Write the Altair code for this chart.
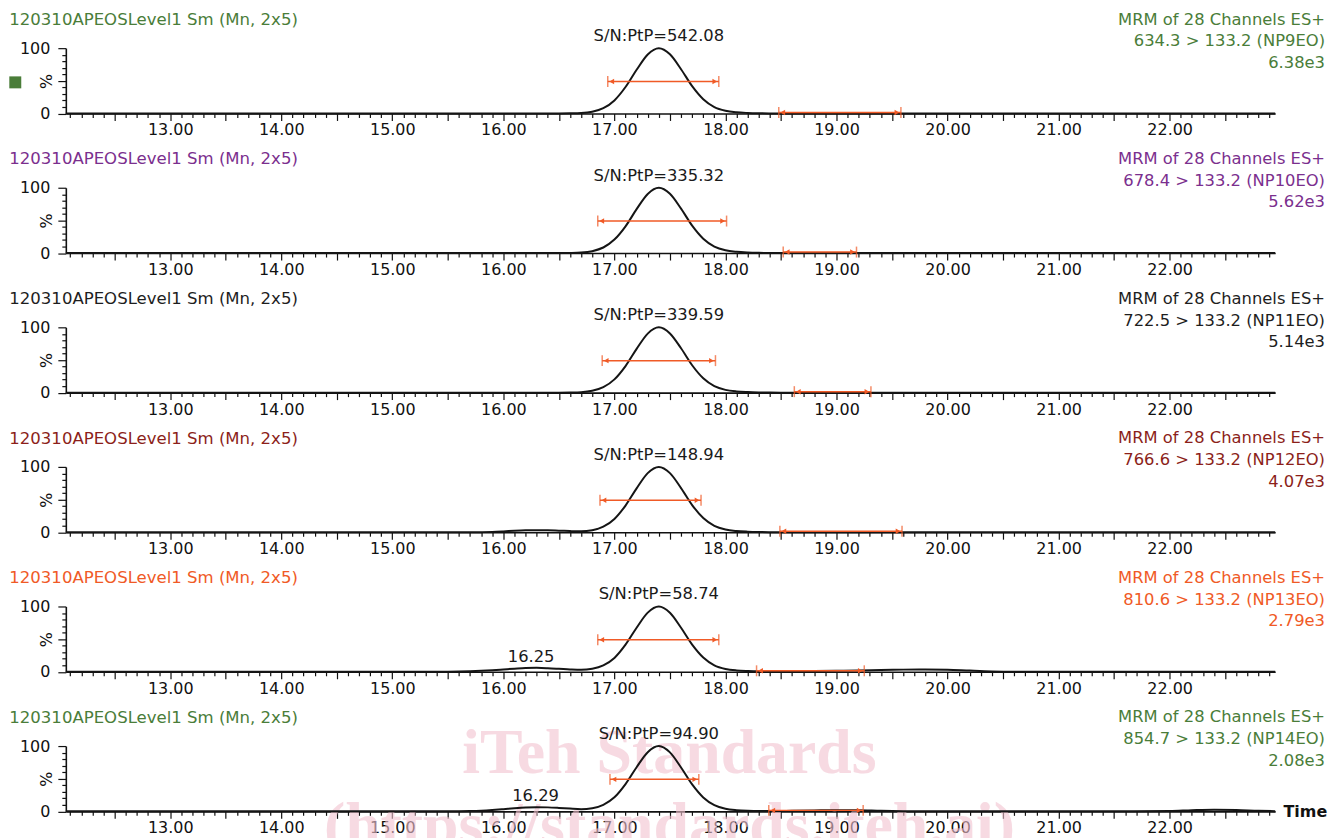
import altair as alt
import pandas as pd

# ---------------- data ----------------
TIME = [12.06, 12.5, 13.0, 13.5, 14.0, 14.5, 15.0, 15.5,
        15.6, 15.7, 15.8, 15.9,
        16.0, 16.1, 16.2, 16.3, 16.4, 16.5, 16.6, 16.7, 16.8, 16.9,
        17.0, 17.1, 17.2, 17.3, 17.4, 17.5, 17.6, 17.7, 17.8, 17.9,
        18.0, 18.1, 18.2, 18.3, 18.4, 18.5, 18.6,
        18.8,
        19.0, 19.2, 19.4, 19.6, 19.8,
        20.0, 20.2, 20.4, 20.6,
        21.0, 21.5,
        22.0, 22.2, 22.4, 22.6, 22.8, 22.95]

NP9EO = [0, 0, 0, 0, 0, 0, 0, 0,
         0, 0, 0, 0,
         0, 0, 0, 0, 0, 0, 0.2, 0.7, 2.7, 8.1,
         20.0, 40.5, 66.9, 90.4, 100, 90.6, 67.8, 41.8, 21.8, 9.8,
         4.2, 1.8, 0.8, 0.3, 0.1, 0, 0,
         0,
         0, 0, 0, 0, 0,
         0, 0, 0, 0,
         0, 0,
         0, 0, 0, 0, 0, 0]
NP10EO = [0, 0, 0, 0, 0, 0, 0, 0,
          0, 0, 0, 0,
          0, 0, 0, 0, 0, 0, 0.2, 0.8, 2.9, 8.5,
          20.6, 40.9, 67.2, 90.5, 100, 90.7, 68.0, 42.0, 22.0, 10.0,
          4.3, 1.9, 0.8, 0.3, 0.1, 0, 0,
          0,
          0, 0, 0, 0, 0,
          0, 0, 0, 0,
          0, 0,
          0, 0, 0, 0, 0, 0]
NP11EO = [0, 0, 0, 0, 0, 0, 0, 0,
          0, 0, 0, 0,
          0, 0, 0, 0, 0, 0, 0.2, 0.7, 2.8, 8.3,
          20.3, 40.7, 67.0, 90.4, 100, 90.6, 67.9, 41.9, 21.9, 9.9,
          4.2, 1.8, 0.8, 0.3, 0.1, 0, 0,
          0,
          0, 0, 0, 0, 0,
          0, 0, 0, 0,
          0, 0,
          0, 0, 0, 0, 0, 0]
NP12EO = [0, 0, 0, 0, 0, 0, 0, 0,
          0, 0, 0.1, 0.4,
          1.2, 2.2, 2.9, 3.1, 2.9, 2.4, 1.7, 1.3, 3.0, 8.4,
          20.3, 40.8, 67.1, 90.5, 100, 90.5, 67.6, 41.6, 21.6, 9.7,
          4.1, 1.8, 0.8, 0.3, 0.1, 0, 0,
          0,
          0, 0, 0, 0, 0,
          0, 0, 0, 0,
          0, 0,
          0, 0, 0, 0, 0, 0]
NP13EO = [0, 0, 0, 0, 0, 0, 0, 0.1,
          0.3, 0.7, 1.4, 2.4,
          3.6, 4.8, 5.8, 6.0, 5.5, 4.6, 3.6, 3.0, 4.6, 9.8,
          21.2, 41.5, 67.5, 90.6, 100, 90.4, 67.4, 41.6, 21.8, 9.9,
          4.4, 2.1, 1.2, 0.8, 0.8, 0.9, 1.0,
          1.2,
          1.5, 2.0, 2.7, 3.3, 3.6,
          3.2, 1.8, 0.6, 0.1,
          0, 0,
          0, 0, 0, 0, 0, 0]
NP14EO = [0, 0, 0, 0, 0, 0, 0, 0,
          0.1, 0.4, 1.0, 2.0,
          3.3, 4.7, 5.8, 6.3, 6.1, 5.3, 4.2, 3.4, 4.8, 10.0,
          21.5, 41.8, 67.6, 90.6, 100, 90.3, 67.2, 41.2, 21.3, 9.5,
          4.0, 1.8, 0.8, 0.4, 0.4, 0.6, 0.9,
          1.4,
          1.8, 1.6, 0.8, 0.3, 0.1,
          0, 0, 0, 0,
          0, 0.1,
          0.6, 1.8, 2.6, 2.2, 0.9, 0.3]

SERIES = [NP9EO, NP10EO, NP11EO, NP12EO, NP13EO, NP14EO]

TITLE = "120310APEOSLevel1 Sm (Mn, 2x5)"
HEADER = "MRM of 28 Channels ES+"
TRANSITIONS = ["634.3 > 133.2 (NP9EO)", "678.4 > 133.2 (NP10EO)",
               "722.5 > 133.2 (NP11EO)", "766.6 > 133.2 (NP12EO)",
               "810.6 > 133.2 (NP13EO)", "854.7 > 133.2 (NP14EO)"]
MAX_INTENSITY = ["6.38e3", "5.62e3", "5.14e3", "4.07e3", "2.79e3", "2.08e3"]
SN_LABELS = ["S/N:PtP=542.08", "S/N:PtP=335.32", "S/N:PtP=339.59",
             "S/N:PtP=148.94", "S/N:PtP=58.74", "S/N:PtP=94.90"]
PEAK_TIME = 17.40

SIG_START = [16.94, 16.85, 16.89, 16.87, 16.85, 16.96]
SIG_END = [17.94, 18.01, 17.91, 17.78, 17.94, 17.76]
NOISE_START = [18.48, 18.52, 18.62, 18.49, 18.28, 18.39]
NOISE_END = [19.58, 19.18, 19.31, 19.59, 19.25, 19.24]
SIG_LEVEL = 49
NOISE_LEVEL = 1.5

# minor peak labels: (panel, time, level, text)
MINOR_PEAKS = [(4, 16.25, 6.0, "16.25"), (5, 16.29, 6.3, "16.29")]

COLORS = ["#4a7d39", "#7b2f8e", "#1e1e1e", "#8c1f1a", "#f05a26", "#4a7d39"]
ARROW = "#f05a26"

MAJOR_TICKS = [13, 14, 15, 16, 17, 18, 19, 20, 21, 22]
X_TICKS = [round(12.1 + 0.1 * i, 1) for i in range(109)]
Y_TICKS = [0, 10, 20, 30, 40, 50, 60, 70, 80, 90, 100]

WATERMARK = ["iTeh Standards", "(https://standards.iteh.ai)"]

# ---------------- layout ----------------
W = 1213
H = 65.5
FONT = "DejaVu Sans"
FS = 16.4

xs = alt.Scale(domain=[12.06, 22.95], nice=False, zero=False)
ys = alt.Scale(domain=[0, 100], nice=False, zero=False)

xaxis = alt.Axis(
    values=X_TICKS, title=None, grid=False,
    labelExpr="abs(datum.value - round(datum.value)) < 0.001 ? format(datum.value, '.2f') : ''",
    tickSize={"condition": {"test": "abs(datum.value*2 - round(datum.value*2)) < 0.001", "value": 7}, "value": 4},
    labelPadding=1.5, labelFontSize=16, labelFont=FONT, labelColor="#111111",
    labelOverlap=False, labelFlush=False, labelBound=False,
    domainColor="#111111", domainWidth=1.6, tickColor="#111111", tickWidth=1.2,
)
yaxis = alt.Axis(
    values=Y_TICKS, grid=False, title="%",
    labelExpr="datum.value == 0 || datum.value == 100 ? datum.label : ''",
    tickSize={"condition": {"test": "datum.value % 50 == 0", "value": 8}, "value": 4},
    labelPadding=8, labelFontSize=16, labelFont=FONT, labelColor="#111111",
    labelOverlap=False, labelFlush=False,
    titleX=-19, titleY=H / 2, titleAngle=270, titleAlign="center", titleBaseline="middle",
    titleFontSize=16, titleFont=FONT, titleFontWeight="normal", titleColor="#111111",
    domainColor="#111111", domainWidth=1.6, tickColor="#111111", tickWidth=1.2,
)


def X(field="t"):
    return alt.X(f"{field}:Q", scale=xs, axis=xaxis)


def Y():
    return alt.Y("v:Q", scale=ys, axis=yaxis)


one = pd.DataFrame({"d": [0]})


def label(txt, x, y, color, align="left", size=FS, weight="normal", font=FONT, opacity=1.0,
          baseline="middle"):
    return alt.Chart(one).mark_text(
        font=font, fontSize=size, fontWeight=weight, color=color, align=align,
        baseline=baseline, opacity=opacity
    ).encode(x=alt.value(x), y=alt.value(y), text=alt.value(txt))


def panel(i):
    layers = []
    if i == 5:
        for txt, yy in zip(WATERMARK, [27, 100]):
            layers.append(label(txt, W / 2 - 1, yy, "#f3c3d0", align="center", size=64,
                                weight="bold", font="Liberation Serif", opacity=0.6,
                                baseline="alphabetic"))

    df = pd.DataFrame({"t": TIME, "v": SERIES[i]})
    layers.append(alt.Chart(df).mark_line(
        color="#151515", strokeWidth=2, interpolate="monotone"
    ).encode(x=X(), y=Y()))

    arrows = pd.DataFrame({
        "t": [SIG_START[i], NOISE_START[i]],
        "t2": [SIG_END[i], NOISE_END[i]],
        "v": [SIG_LEVEL, NOISE_LEVEL],
    })
    layers.append(alt.Chart(arrows).mark_rule(color=ARROW, strokeWidth=1.5).encode(
        x=X(), x2="t2:Q", y=Y()))
    ends = pd.DataFrame({
        "t": [SIG_START[i], SIG_END[i], NOISE_START[i], NOISE_END[i]],
        "v": [SIG_LEVEL, SIG_LEVEL, NOISE_LEVEL, NOISE_LEVEL],
    })
    layers.append(alt.Chart(ends).mark_tick(
        orient="vertical", size=11, thickness=1.5, color=ARROW
    ).encode(x=X(), y=Y()))
    lefts = pd.DataFrame({"t": [SIG_START[i], NOISE_START[i]], "v": [SIG_LEVEL, NOISE_LEVEL]})
    rights = pd.DataFrame({"t": [SIG_END[i], NOISE_END[i]], "v": [SIG_LEVEL, NOISE_LEVEL]})
    layers.append(alt.Chart(lefts).mark_point(
        shape="triangle-left", filled=True, size=30, color=ARROW, opacity=1, xOffset=4
    ).encode(x=X(), y=Y()))
    layers.append(alt.Chart(rights).mark_point(
        shape="triangle-right", filled=True, size=30, color=ARROW, opacity=1, xOffset=-4
    ).encode(x=X(), y=Y()))

    sn = pd.DataFrame({"t": [PEAK_TIME], "v": [100], "txt": [SN_LABELS[i]]})
    layers.append(alt.Chart(sn).mark_text(
        font=FONT, fontSize=FS, color="#1a1a1a", baseline="middle", align="center", dy=-12
    ).encode(x=X(), y=Y(), text="txt:N"))

    for (p, tm, lv, txt) in MINOR_PEAKS:
        if p == i:
            mp = pd.DataFrame({"t": [tm], "v": [lv], "txt": [txt]})
            layers.append(alt.Chart(mp).mark_text(
                font=FONT, fontSize=FS, color="#1a1a1a", baseline="middle", align="center", dy=-11
            ).encode(x=X(), y=Y(), text="txt:N"))

    # panel headers
    layers.append(label(TITLE, -56.7, -28.4, COLORS[i], size=16.6))
    for txt, yy in zip([HEADER, TRANSITIONS[i], MAX_INTENSITY[i]], [-28.7, -6.7, 14.8]):
        layers.append(label(txt, W + 50, yy, COLORS[i], align="right"))

    if i == 0:
        layers.append(alt.Chart(one).mark_square(
            size=144, color=COLORS[0], filled=True, opacity=1
        ).encode(x=alt.value(-50.7), y=alt.value(34.3)))
    if i == 5:
        layers.append(label("Time", W + 8.3, H + 1, "#111111", size=16, weight="bold"))

    return alt.layer(*layers).properties(
        width=W, height=H,
        view=alt.ViewBackground(stroke="transparent", strokeWidth=0, strokeOpacity=0),
    )


chart = alt.vconcat(*[panel(i) for i in range(6)], spacing=74, bounds="flush").properties(
    padding={"left": 1, "top": 2, "right": 0, "bottom": 0}
).configure_view(stroke="transparent", strokeWidth=0, strokeOpacity=0).configure(background="white")

chart.save("out.html", embed_options={"renderer": "svg", "actions": False})
